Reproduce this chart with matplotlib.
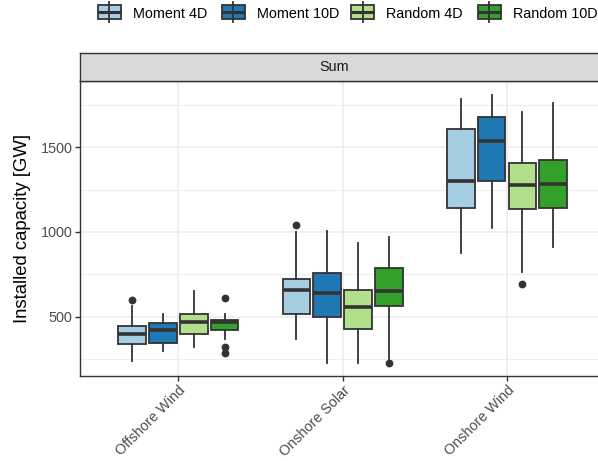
import matplotlib
matplotlib.use("Agg")
import matplotlib.pyplot as plt
from matplotlib.patches import Rectangle
from matplotlib.lines import Line2D

plt.rcParams["font.family"] = ["Liberation Sans", "DejaVu Sans"]

# Installed capacity per technology (columns) for each scenario (rows)
techs = ["Offshore Wind", "Onshore Solar", "Onshore Wind"]
scenarios = ["Moment 4D", "Moment 10D", "Random 4D", "Random 10D"]
colors = ["#A6CEE3", "#1F78B4", "#B2DF8A", "#33A02C"]

q1 = [[339, 518, 1142],
      [343, 500, 1303],
      [400, 428, 1134],
      [422, 563, 1142]]
med = [[398, 658, 1301],
       [422, 638, 1535],
       [469, 556, 1279],
       [467, 652, 1283]]
q3 = [[444, 723, 1606],
      [461, 758, 1680],
      [516, 658, 1405],
      [483, 786, 1425]]
whislo = [[237, 370, 878],
          [296, 229, 1022],
          [320, 229, 762],
          [367, 250, 910]]
whishi = [[565, 998, 1783],
          [514, 1008, 1808],
          [654, 933, 1706],
          [514, 972, 1763]]
fliers = [[[601], [1043], []],
          [[], [], []],
          [[], [], [691]],
          [[611, 320, 288], [227], []]]

EDGE = "#333333"
GRID = "#EBEBEB"
W_PX, H_PX = 598, 461
FS = 10.4


def fx(px):
    return px / W_PX


def fy(py):
    return 1 - py / H_PX


fig = plt.figure(figsize=(W_PX / 100, H_PX / 100), dpi=100)

# panel extends a little past the right edge of the canvas
left, right, top, bottom = 79.7, 605.6, 81, 376
ax = fig.add_axes([fx(left), fy(bottom), fx(right - left), (bottom - top) / H_PX])

dodge = 0.75 / len(scenarios)
box_w = dodge * 0.9
for i, name in enumerate(scenarios):
    offset = (i - (len(scenarios) - 1) / 2) * dodge
    stats = []
    for j in range(len(techs)):
        stats.append(dict(med=med[i][j], q1=q1[i][j], q3=q3[i][j],
                          whislo=whislo[i][j], whishi=whishi[i][j],
                          fliers=fliers[i][j]))
    ax.bxp(stats, positions=[j + 1 + offset for j in range(len(techs))],
           widths=box_w, patch_artist=True, showcaps=False,
           boxprops=dict(facecolor=colors[i], edgecolor=EDGE, linewidth=1.3),
           medianprops=dict(color=EDGE, linewidth=2.6, solid_capstyle="butt"),
           whiskerprops=dict(color=EDGE, linewidth=1.3),
           flierprops=dict(marker="o", markerfacecolor=EDGE, markeredgecolor=EDGE,
                           markersize=4.6, linestyle="none"),
           zorder=3)

ax.set_xlim(0.4, len(techs) + 0.6)
ax.set_ylim(150, 1891)
ax.set_yticks([500, 1000, 1500])
ax.set_yticks([250, 750, 1250, 1750], minor=True)
ax.set_xticks(range(1, len(techs) + 1))
ax.set_xticklabels(techs, rotation=45, ha="right", va="top",
                   rotation_mode="anchor")
ax.tick_params(axis="both", which="major", length=3.3, width=1.0, color=EDGE,
               labelsize=FS, labelcolor="#4D4D4D", pad=2.0)
ax.tick_params(axis="y", which="minor", length=0)
ax.grid(True, which="major", color=GRID, linewidth=1.1, zorder=0)
ax.grid(True, which="minor", axis="y", color=GRID, linewidth=0.6, zorder=0)
ax.set_axisbelow(True)
for sp in ax.spines.values():
    sp.set_color(EDGE)
    sp.set_linewidth(1.0)
ax.set_ylabel("Installed capacity [GW]", fontsize=13.3, color="black")
ax.yaxis.set_label_coords(-(left - 31) / (right - left), 0.5)

# facet strip
strip_top = 53.3
sax = fig.add_axes([fx(left), fy(top), fx(right - left), (top - strip_top) / H_PX])
sax.set_facecolor("#D9D9D9")
sax.set_xticks([])
sax.set_yticks([])
for sp in sax.spines.values():
    sp.set_color(EDGE)
    sp.set_linewidth(1.0)
sax.text((334.5 - left) / (right - left), 0.5, "Sum", transform=sax.transAxes,
         ha="center", va="center", fontsize=FS, color="#1A1A1A")

# legend row along the top: boxplot-style keys followed by labels
key_left = [97.7, 221.7, 351.0, 477.7]
key_w, key_top, key_bot, stub = 23.0, 5.0, 19.0, 3.3
for x0, c, name in zip(key_left, colors, scenarios):
    cx = x0 + key_w / 2
    fig.add_artist(Line2D([fx(cx)] * 2, [fy(key_top - stub), fy(key_bot + stub)],
                          color=EDGE, linewidth=1.3))
    fig.add_artist(Rectangle((fx(x0), fy(key_bot)), fx(key_w),
                             (key_bot - key_top) / H_PX, facecolor=c,
                             edgecolor=EDGE, linewidth=1.3))
    mid = (key_top + key_bot) / 2
    fig.add_artist(Line2D([fx(x0), fx(x0 + key_w)], [fy(mid)] * 2,
                          color=EDGE, linewidth=2.2, solid_capstyle="butt"))
    fig.text(fx(x0 + 35), fy(mid), name, ha="left", va="center_baseline",
             fontsize=FS, color="black")

fig.savefig("out.png", dpi=100)
